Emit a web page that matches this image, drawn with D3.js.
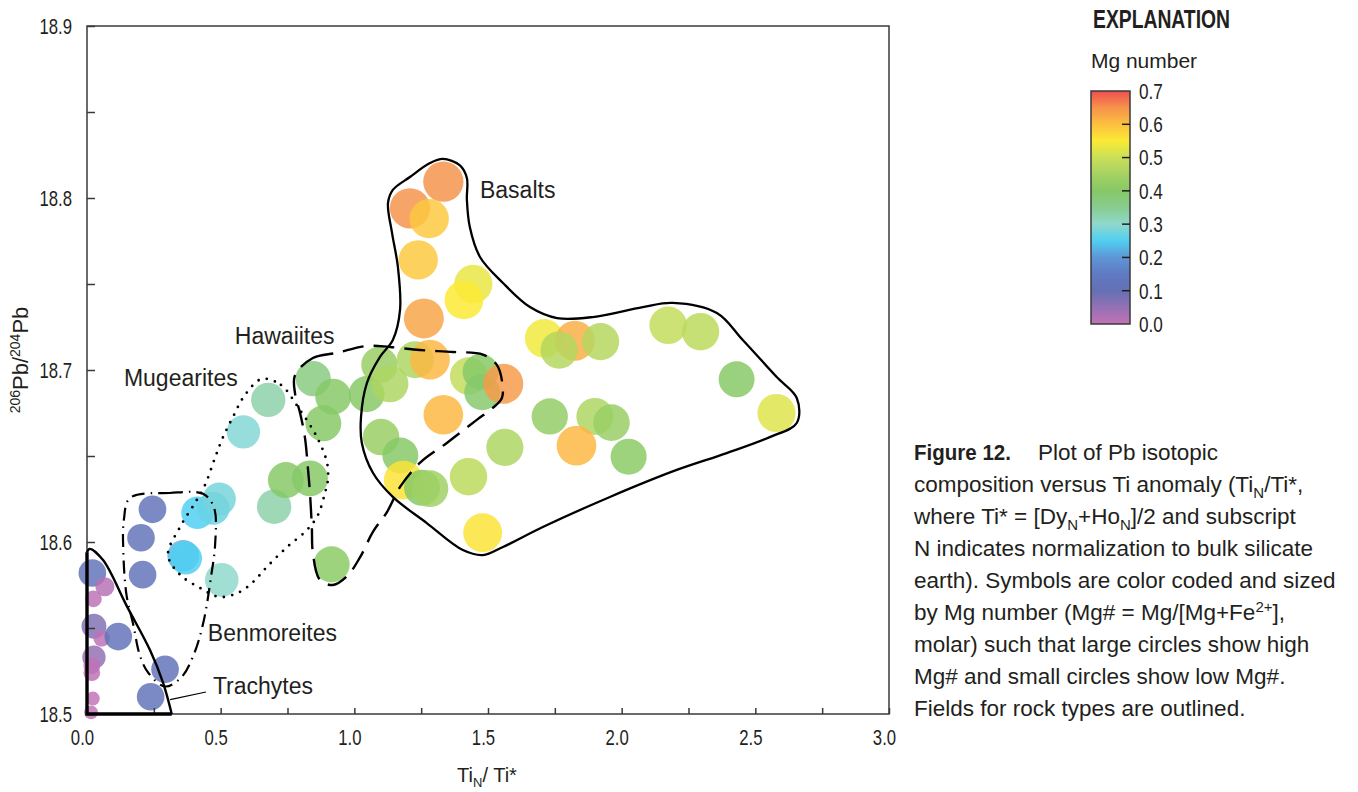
<!DOCTYPE html>
<html>
<head>
<meta charset="utf-8">
<script src="https://cdn.jsdelivr.net/npm/d3@7/dist/d3.min.js"></script>
<style>
  body { margin: 0; background: #fff; }
  svg text { fill: #231f20; }
  .num { font-family: "Liberation Sans", Arial, sans-serif; font-size: 21px; }
  .tk { font-family: "Liberation Sans", Arial, sans-serif; font-size: 22px; }
  .txt { font-family: "Liberation Sans", Arial, sans-serif; font-size: 23px; }
</style>
</head>
<body>
<svg id="chart" width="1358" height="792"></svg>
<script>
// Ti anomaly (TiN/Ti*), 206Pb/204Pb and Mg number for each sample
const tiRatio = [
  0.020, 0.067, 0.024, 0.026, 0.055, 0.117, 0.026, 0.018, 0.018, 0.022, 0.015, 0.292, 0.238,
  0.245, 0.202, 0.208, 0.413, 0.472, 0.495, 0.360, 0.370, 0.504,
  0.585, 0.678, 0.700, 0.744, 0.834,
  0.846, 0.921, 0.884, 0.915, 1.046, 1.094, 1.133, 1.228, 1.283, 1.428, 1.472, 1.478, 1.557,
  1.333, 1.100, 1.172, 1.183, 1.253, 1.283, 1.427, 1.480, 1.563,
  1.333, 1.208, 1.280, 1.239, 1.260, 1.445, 1.410, 1.710, 1.825, 1.766, 1.921, 2.174, 2.295,
  2.430, 2.579, 1.731, 1.900, 1.962, 1.831, 2.026
];
const pbRatio = [
  18.582, 18.574, 18.567, 18.551, 18.544, 18.545, 18.533, 18.528, 18.524, 18.509, 18.501, 18.526, 18.510,
  18.619, 18.6025, 18.581, 18.617, 18.6196, 18.625, 18.592, 18.5905, 18.578,
  18.664, 18.6826, 18.6205, 18.636, 18.637,
  18.695, 18.6845, 18.669, 18.587, 18.686, 18.703, 18.692, 18.706, 18.706, 18.6965, 18.699, 18.687, 18.692,
  18.674, 18.661, 18.6503, 18.636, 18.6315, 18.631, 18.638, 18.6054, 18.655,
  18.8095, 18.794, 18.788, 18.764, 18.730, 18.750, 18.7407, 18.7184, 18.717, 18.7116, 18.7165, 18.726, 18.7223,
  18.6946, 18.675, 18.673, 18.673, 18.6694, 18.656, 18.6496
];
const mgNumber = [
  0.12, 0.015, 0.006, 0.07, 0.006, 0.12, 0.05, 0.006, 0.006, 0.001, 0.001, 0.12, 0.12,
  0.12, 0.12, 0.12, 0.25, 0.27, 0.28, 0.23, 0.25, 0.30,
  0.29, 0.33, 0.33, 0.40, 0.40,
  0.37, 0.40, 0.40, 0.41, 0.40, 0.43, 0.46, 0.46, 0.61, 0.49, 0.40, 0.39, 0.64,
  0.61, 0.43, 0.40, 0.56, 0.40, 0.44, 0.48, 0.56, 0.46,
  0.65, 0.65, 0.59, 0.59, 0.63, 0.53, 0.55, 0.54, 0.62, 0.47, 0.47, 0.49, 0.48,
  0.40, 0.52, 0.42, 0.46, 0.43, 0.61, 0.41
];

// Axis ticks
const xTicks = [0, 0.5, 1.0, 1.5, 2.0, 2.5, 3.0];
const xMinorTicks = [0.25, 0.75, 1.25, 1.75, 2.25, 2.75];
const yTicks = [18.5, 18.6, 18.7, 18.8, 18.9];
const yMinorTicks = [18.55, 18.65, 18.75, 18.85];
const mgTicks = [0, 0.1, 0.2, 0.3, 0.4, 0.5, 0.6, 0.7];

// Colour ramp of the Mg-number scale
const mgStops = [0, 0.05, 0.1, 0.15, 0.2, 0.25, 0.3, 0.35, 0.4, 0.45, 0.5, 0.55, 0.6, 0.65, 0.7];
const mgColors = ["#c472b6", "#9470b4", "#6470b4", "#5f7ac2", "#5e96d6", "#50cff2", "#8fd8cc",
  "#88cc90", "#86c866", "#a6d262", "#cadf58", "#fbea35", "#fcc040", "#f6924b", "#ee4f4f"];

// Rock-type field outlines (TiN/Ti*, 206Pb/204Pb)
const basaltField = [
  [1.331, 18.8227], [1.395, 18.819], [1.421, 18.8116], [1.421, 18.799], [1.432, 18.7831],
  [1.470, 18.7657], [1.556, 18.7506], [1.657, 18.7366], [1.758, 18.7302], [1.892, 18.7308],
  [2.079, 18.7366], [2.191, 18.739], [2.356, 18.7331], [2.453, 18.7174], [2.580, 18.6959],
  [2.655, 18.6837], [2.655, 18.6692], [2.554, 18.661], [2.393, 18.6517], [2.206, 18.6419],
  [1.956, 18.6262], [1.705, 18.6087], [1.556, 18.5971], [1.481, 18.5924], [1.406, 18.5953],
  [1.271, 18.611], [1.144, 18.6262], [1.070, 18.6401], [1.028, 18.6576], [1.025, 18.6727],
  [1.047, 18.6924], [1.096, 18.7076], [1.144, 18.7174], [1.171, 18.7349], [1.163, 18.7599],
  [1.141, 18.7797], [1.126, 18.7971], [1.144, 18.8047], [1.208, 18.8122], [1.283, 18.8203]
];
const hawaiiteField = [
  [0.778, 18.697], [0.845, 18.707], [0.935, 18.710], [1.047, 18.714], [1.133, 18.7134],
  [1.245, 18.7116], [1.369, 18.7105], [1.481, 18.709], [1.533, 18.703], [1.552, 18.694],
  [1.552, 18.6837], [1.518, 18.678], [1.458, 18.671], [1.346, 18.6576], [1.245, 18.646],
  [1.171, 18.632], [1.122, 18.6174], [1.070, 18.606], [1.021, 18.591], [0.972, 18.58],
  [0.920, 18.575], [0.871, 18.578], [0.845, 18.5936], [0.841, 18.6087], [0.834, 18.6285],
  [0.826, 18.6436], [0.815, 18.661], [0.797, 18.675], [0.778, 18.6866]
];
const mugeariteField = [
  [0.654, 18.6948], [0.7255, 18.6913], [0.789, 18.6785], [0.860, 18.661], [0.898, 18.646],
  [0.901, 18.636], [0.890, 18.6285], [0.864, 18.6157], [0.823, 18.607], [0.748, 18.597],
  [0.673, 18.5855], [0.621, 18.5767], [0.572, 18.571], [0.497, 18.568], [0.4226, 18.5733],
  [0.348, 18.581], [0.303, 18.5924], [0.348, 18.6087], [0.404, 18.6227], [0.441, 18.633],
  [0.479, 18.649], [0.509, 18.661], [0.546, 18.6727], [0.591, 18.6855]
];
const benmoreiteField = [
  [0.161, 18.6256], [0.310, 18.6285], [0.434, 18.628], [0.475, 18.62], [0.479, 18.598],
  [0.466, 18.582], [0.435, 18.553], [0.398, 18.534], [0.354, 18.5215], [0.292, 18.516],
  [0.229, 18.524], [0.198, 18.534], [0.173, 18.552], [0.148, 18.569], [0.136, 18.594],
  [0.138, 18.613]
];
const trachyteCurve = [
  [0.0, 18.594], [0.01, 18.596], [0.06, 18.5895], [0.148, 18.563], [0.236, 18.537],
  [0.285, 18.518], [0.317, 18.5]
];
const trachyteBase = [[0.317, 18.5], [0.0, 18.5], [0.0, 18.594]];

// Field names and their anchor points
const fieldNames = ["Basalts", "Hawaiites", "Mugearites", "Benmoreites", "Trachytes"];
const fieldLabelX = [1.470, 0.553, 0.138, 0.452, 0.471];
const fieldLabelY = [18.8047, 18.7198, 18.6953, 18.5471, 18.5163];
const trachyteLeader = [[0.311, 18.5084], [0.445, 18.5128]];

const svg = d3.select("#chart");

const x = d3.scaleLinear().domain([0, 3]).range([87, 889]);
const y = d3.scaleLinear().domain([18.5, 18.9]).range([714, 26]);
const color = d3.scaleLinear().domain(mgStops).range(mgColors).clamp(true);
const radius = d3.scalePow().exponent(0.32).domain([0, 0.7]).range([5, 20.5]);

// Squeeze text horizontally to give it a condensed face
function condense(sel, f) {
  sel.each(function () {
    const n = this.getComputedTextLength();
    d3.select(this).attr("textLength", n * f).attr("lengthAdjust", "spacingAndGlyphs");
  });
}

// Samples
const samples = tiRatio.map((t, i) => ({ t, pb: pbRatio[i], mg: mgNumber[i] }));
svg.append("g").selectAll("circle")
  .data(samples)
  .join("circle")
  .attr("cx", d => x(d.t))
  .attr("cy", d => y(d.pb))
  .attr("r", d => radius(d.mg))
  .attr("fill", d => color(d.mg))
  .attr("fill-opacity", 0.84);

// Frame
svg.append("rect")
  .attr("x", x(0)).attr("y", y(18.9))
  .attr("width", x(3) - x(0)).attr("height", y(18.5) - y(18.9))
  .attr("fill", "none").attr("stroke", "#3a3a3a").attr("stroke-width", 1.5);

// Axes with inward ticks
const xAxis = svg.append("g").attr("transform", `translate(0,${y(18.5)})`)
  .call(d3.axisBottom(x).tickValues(xTicks).tickSize(-6).tickPadding(15)
    .tickFormat(d3.format(".1f")));
svg.append("g").attr("transform", `translate(0,${y(18.5)})`)
  .call(d3.axisBottom(x).tickValues(xMinorTicks).tickSize(-6).tickFormat(""));
svg.append("g").attr("transform", `translate(${x(0)},0)`)
  .call(d3.axisLeft(y).tickValues(yTicks).tickSize(-8).tickPadding(15)
    .tickFormat(d3.format(".1f")));
svg.append("g").attr("transform", `translate(${x(0)},0)`)
  .call(d3.axisLeft(y).tickValues(yMinorTicks).tickSize(-8).tickFormat(""));

svg.selectAll(".domain").remove();
svg.selectAll(".tick line").attr("stroke", "#3a3a3a").attr("stroke-width", 1.5);
svg.selectAll(".tick text").attr("class", "tk").attr("font-size", null)
  .attr("font-family", null).attr("fill", "#231f20");
xAxis.selectAll(".tick text").attr("dx", "-5");
condense(svg.selectAll(".tick text"), 0.76);

// Field outlines
const path = d3.line().x(d => x(d[0])).y(d => y(d[1]));
const outline = svg.append("g").attr("fill", "none").attr("stroke", "#000");

outline.append("path").attr("d", path.curve(d3.curveCatmullRomClosed.alpha(0.5))(basaltField))
  .attr("stroke-width", 2.3);
outline.append("path").attr("d", path.curve(d3.curveCatmullRomClosed.alpha(0.5))(hawaiiteField))
  .attr("stroke-width", 2.4).attr("stroke-dasharray", "21,10");
outline.append("path").attr("d", path.curve(d3.curveCatmullRomClosed.alpha(0.5))(mugeariteField))
  .attr("stroke-width", 2.8).attr("stroke-linecap", "round").attr("stroke-dasharray", "0,8.5");
outline.append("path").attr("d", path.curve(d3.curveCatmullRomClosed.alpha(0.5))(benmoreiteField))
  .attr("stroke-width", 2.2).attr("stroke-dasharray", "13,6,1.5,6");
outline.append("path").attr("d", path.curve(d3.curveCatmullRom.alpha(0.5))(trachyteCurve))
  .attr("stroke-width", 2.4);
outline.append("path").attr("d", path.curve(d3.curveLinear)(trachyteBase))
  .attr("stroke-width", 3.4);
outline.append("path").attr("d", path.curve(d3.curveLinear)(trachyteLeader))
  .attr("stroke-width", 1.2);

// Field names
svg.append("g").selectAll("text")
  .data(fieldNames)
  .join("text")
  .attr("class", "txt")
  .attr("x", (d, i) => x(fieldLabelX[i]))
  .attr("y", (d, i) => y(fieldLabelY[i]))
  .attr("dy", "0.36em")
  .text(d => d);

// Axis titles
const xTitle = svg.append("text").attr("class", "num").style("font-size", "20px")
  .attr("x", 487).attr("y", 782).attr("text-anchor", "middle");
xTitle.append("tspan").text("Ti");
xTitle.append("tspan").style("font-size", "13px").attr("dy", "5").text("N");
xTitle.append("tspan").attr("dy", "-5").text("/ Ti*");

const yTitle = svg.append("text").attr("class", "txt").style("font-size", "22px")
  .attr("transform", `translate(28,${y(18.7) - 10}) rotate(-90)`)
  .attr("text-anchor", "middle");
yTitle.append("tspan").style("font-size", "14px").attr("dy", "-8").text("206");
yTitle.append("tspan").attr("dy", "8").text("Pb/");
yTitle.append("tspan").style("font-size", "14px").attr("dy", "-8").text("204");
yTitle.append("tspan").attr("dy", "8").text("Pb");

// Explanation: Mg number colour bar
svg.append("text").attr("class", "num").style("font-size", "26px").attr("font-weight", "bold")
  .attr("x", 1093).attr("y", 28).attr("textLength", 137).attr("lengthAdjust", "spacingAndGlyphs")
  .text("EXPLANATION");
svg.append("text").attr("class", "txt").style("font-size", "21px")
  .attr("x", 1144).attr("y", 68).attr("text-anchor", "middle").text("Mg number");

const barX = 1091, barW = 39;
const mgY = d3.scaleLinear().domain([0, 0.7]).range([324, 91]);
const grad = svg.append("defs").append("linearGradient")
  .attr("id", "mgRamp").attr("x1", 0).attr("y1", 1).attr("x2", 0).attr("y2", 0);
grad.selectAll("stop").data(mgStops).join("stop")
  .attr("offset", d => d / 0.7)
  .attr("stop-color", d => color(d));
svg.append("rect")
  .attr("x", barX).attr("y", mgY(0.7))
  .attr("width", barW).attr("height", mgY(0) - mgY(0.7))
  .attr("fill", "url(#mgRamp)").attr("stroke", "#3a3a3a").attr("stroke-width", 1.5);
svg.append("g").selectAll("line")
  .data(mgTicks.filter(v => v > 0 && v < 0.7))
  .join("line")
  .attr("x1", barX + barW - 8).attr("x2", barX + barW)
  .attr("y1", d => mgY(d)).attr("y2", d => mgY(d))
  .attr("stroke", "#231f20").attr("stroke-width", 1.5);
const mgLabels = svg.append("g").selectAll("text")
  .data(mgTicks)
  .join("text")
  .attr("class", "tk")
  .attr("x", barX + barW + 9)
  .attr("y", d => mgY(d))
  .attr("dy", "0.36em")
  .text(d => d3.format(".1f")(d));
condense(mgLabels, 0.78);

// Figure caption
const capLines = [
  [["Figure 12.", "b"], ["Plot of Pb isotopic", "gap"]],
  [["composition versus Ti anomaly (Ti", ""], ["N", "sub"], ["/Ti*,", ""]],
  [["where Ti* = [Dy", ""], ["N", "sub"], ["+Ho", ""], ["N", "sub"], ["]/2 and subscript", ""]],
  [["N indicates normalization to bulk silicate", ""]],
  [["earth). Symbols are color coded and sized", ""]],
  [["by Mg number (Mg# = Mg/[Mg+Fe", ""], ["2+", "sup"], ["],", ""]],
  [["molar) such that large circles show high", ""]],
  [["Mg# and small circles show low Mg#.", ""]],
  [["Fields for rock types are outlined.", ""]]
];
const caption = svg.append("text").attr("class", "txt").style("font-size", "22.5px");
capLines.forEach((parts, li) => {
  const baseY = 460 + li * 32;
  parts.forEach((p, pi) => {
    const ts = caption.append("tspan").text(p[0]);
    if (pi === 0) ts.attr("x", 914).attr("y", baseY);
    else if (p[1] === "gap") ts.attr("x", 1038).attr("y", baseY);
    else if (p[1] === "sub") ts.attr("y", baseY + 6).style("font-size", "15px");
    else if (p[1] === "sup") ts.attr("y", baseY - 8).style("font-size", "15px");
    else ts.attr("y", baseY);
    if (p[1] === "b") ts.attr("font-weight", "bold").attr("textLength", 97)
      .attr("lengthAdjust", "spacingAndGlyphs");
  });
});
</script>
</body>
</html>
